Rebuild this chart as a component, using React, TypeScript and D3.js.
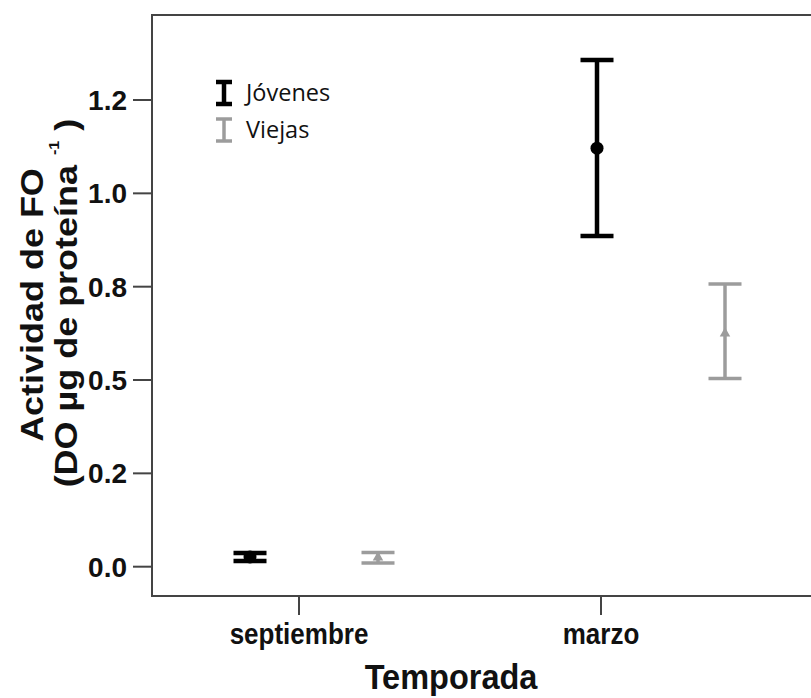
import React from 'react';
import * as d3 from 'd3';

// Temporada / grupo data (mean with error bar limits)
const seasons = ['septiembre', 'marzo'];
const groups = ['Jóvenes', 'Viejas'];
const meanJovenes = [0.026, 1.121];
const lowJovenes = [0.015, 0.886];
const highJovenes = [0.037, 1.357];
const meanViejas = [0.025, 0.625];
const lowViejas = [0.01, 0.504];
const highViejas = [0.038, 0.757];
const yTickValues = [0, 0.25, 0.5, 0.75, 1.0, 1.25];
const yTickLabels = ['0.0', '0.2', '0.5', '0.8', '1.0', '1.2'];

const W = 811;
const H = 698;
const left = 152;
const top = 15;
const bottom = 596;
const axisColor = '#444';
const font = '"Liberation Sans", Arial, sans-serif';

const series = [
  { name: groups[0], mean: meanJovenes, low: lowJovenes, high: highJovenes, color: '#000', width: 4.5, shape: 'circle' },
  { name: groups[1], mean: meanViejas, low: lowViejas, high: highViejas, color: '#9c9c9c', width: 3.5, shape: 'triangle' },
];

const App = () => {
  // scales
  const y = d3.scaleLinear().domain([-0.0785, 1.4777]).range([bottom, top]);
  const xTick = d3.scalePoint<string>().domain(seasons).range([299, 601]);
  const xCluster = d3.scalePoint<string>().domain(seasons).range([314, 661]);
  const xGroup = d3.scalePoint<string>().domain(groups).range([-64, 64]);
  const capHalf = 16.5;
  const triangle = d3.symbol().type(d3.symbolTriangle).size(48)();

  return (
    <svg width={W} height={H} style={{ position: 'absolute', left: 0, top: 0, background: '#fff' }}>
      {/* frame */}
      <line x1={left} x2={W + 5} y1={top} y2={top} stroke={axisColor} strokeWidth={2} />
      <line x1={left} x2={W + 5} y1={bottom} y2={bottom} stroke={axisColor} strokeWidth={2} />
      <line x1={left} x2={left} y1={top - 1} y2={bottom + 1} stroke={axisColor} strokeWidth={2} />

      {/* y axis ticks */}
      {yTickValues.map((v, i) => (
        <g key={'yt' + i}>
          <line x1={left - 19} x2={left} y1={y(v)} y2={y(v)} stroke={axisColor} strokeWidth={2} />
          <text x={127} y={y(v)} dy="0.36em" textAnchor="end" fontFamily={font} fontWeight="bold"
            fontSize={28} fill="#111">{yTickLabels[i]}</text>
        </g>
      ))}

      {/* x axis ticks */}
      {seasons.map(s => (
        <g key={'xt' + s}>
          <line x1={xTick(s)} x2={xTick(s)} y1={bottom} y2={bottom + 19} stroke={axisColor} strokeWidth={2} />
          <text transform={`translate(${xTick(s)},644) scale(1,1.1)`} textAnchor="middle" fontFamily={font}
            fontWeight="bold" fontSize={26} fill="#111">{s}</text>
        </g>
      ))}

      {/* axis titles */}
      <text transform="translate(451,689) scale(1,1.1)" textAnchor="middle" fontFamily={font}
        fontWeight="bold" fontSize={32.5} fill="#111">Temporada</text>
      <text transform="translate(43,305) rotate(-90) scale(1.16,1)" textAnchor="middle" fontFamily={font}
        fontWeight="bold" fontSize={31} fill="#111">Actividad de FO</text>
      <text transform="translate(77,303) rotate(-90) scale(1.16,1)" textAnchor="middle" fontFamily={font}
        fontWeight="bold" fontSize={31} fill="#111">
        (DO µg de proteína <tspan fontSize={14} dy={-18}>-1</tspan><tspan dy={18}> )</tspan>
      </text>

      {/* error bars */}
      {series.map(sr => (
        <g key={sr.name}>
          {seasons.map((s, i) => {
            const cx = (xCluster(s) as number) + (xGroup(sr.name) as number);
            return (
              <g key={s}>
                <line x1={cx} x2={cx} y1={y(sr.high[i])} y2={y(sr.low[i])} stroke={sr.color} strokeWidth={sr.width} />
                <line x1={cx - capHalf} x2={cx + capHalf} y1={y(sr.high[i])} y2={y(sr.high[i])} stroke={sr.color} strokeWidth={sr.width} />
                <line x1={cx - capHalf} x2={cx + capHalf} y1={y(sr.low[i])} y2={y(sr.low[i])} stroke={sr.color} strokeWidth={sr.width} />
                {sr.shape === 'circle' ? (
                  <circle cx={cx} cy={y(sr.mean[i])} r={6.5} fill={sr.color} />
                ) : (
                  <path d={triangle as string} transform={`translate(${cx},${y(sr.mean[i])})`} fill={sr.color} />
                )}
              </g>
            );
          })}
        </g>
      ))}

      {/* legend */}
      {series.map((sr, i) => {
        const ly = 93 + i * 37;
        return (
          <g key={'lg' + sr.name}>
            <line x1={224} x2={224} y1={ly - 11} y2={ly + 11} stroke={sr.color} strokeWidth={sr.width} />
            <line x1={216} x2={232} y1={ly - 11} y2={ly - 11} stroke={sr.color} strokeWidth={sr.width} />
            <line x1={216} x2={232} y1={ly + 11} y2={ly + 11} stroke={sr.color} strokeWidth={sr.width} />
            <text x={246} y={ly + 8} fontFamily='"Open Sans", sans-serif' fontSize={23.5} fill="#111">{sr.name}</text>
          </g>
        );
      })}
    </svg>
  );
};

export default App;
